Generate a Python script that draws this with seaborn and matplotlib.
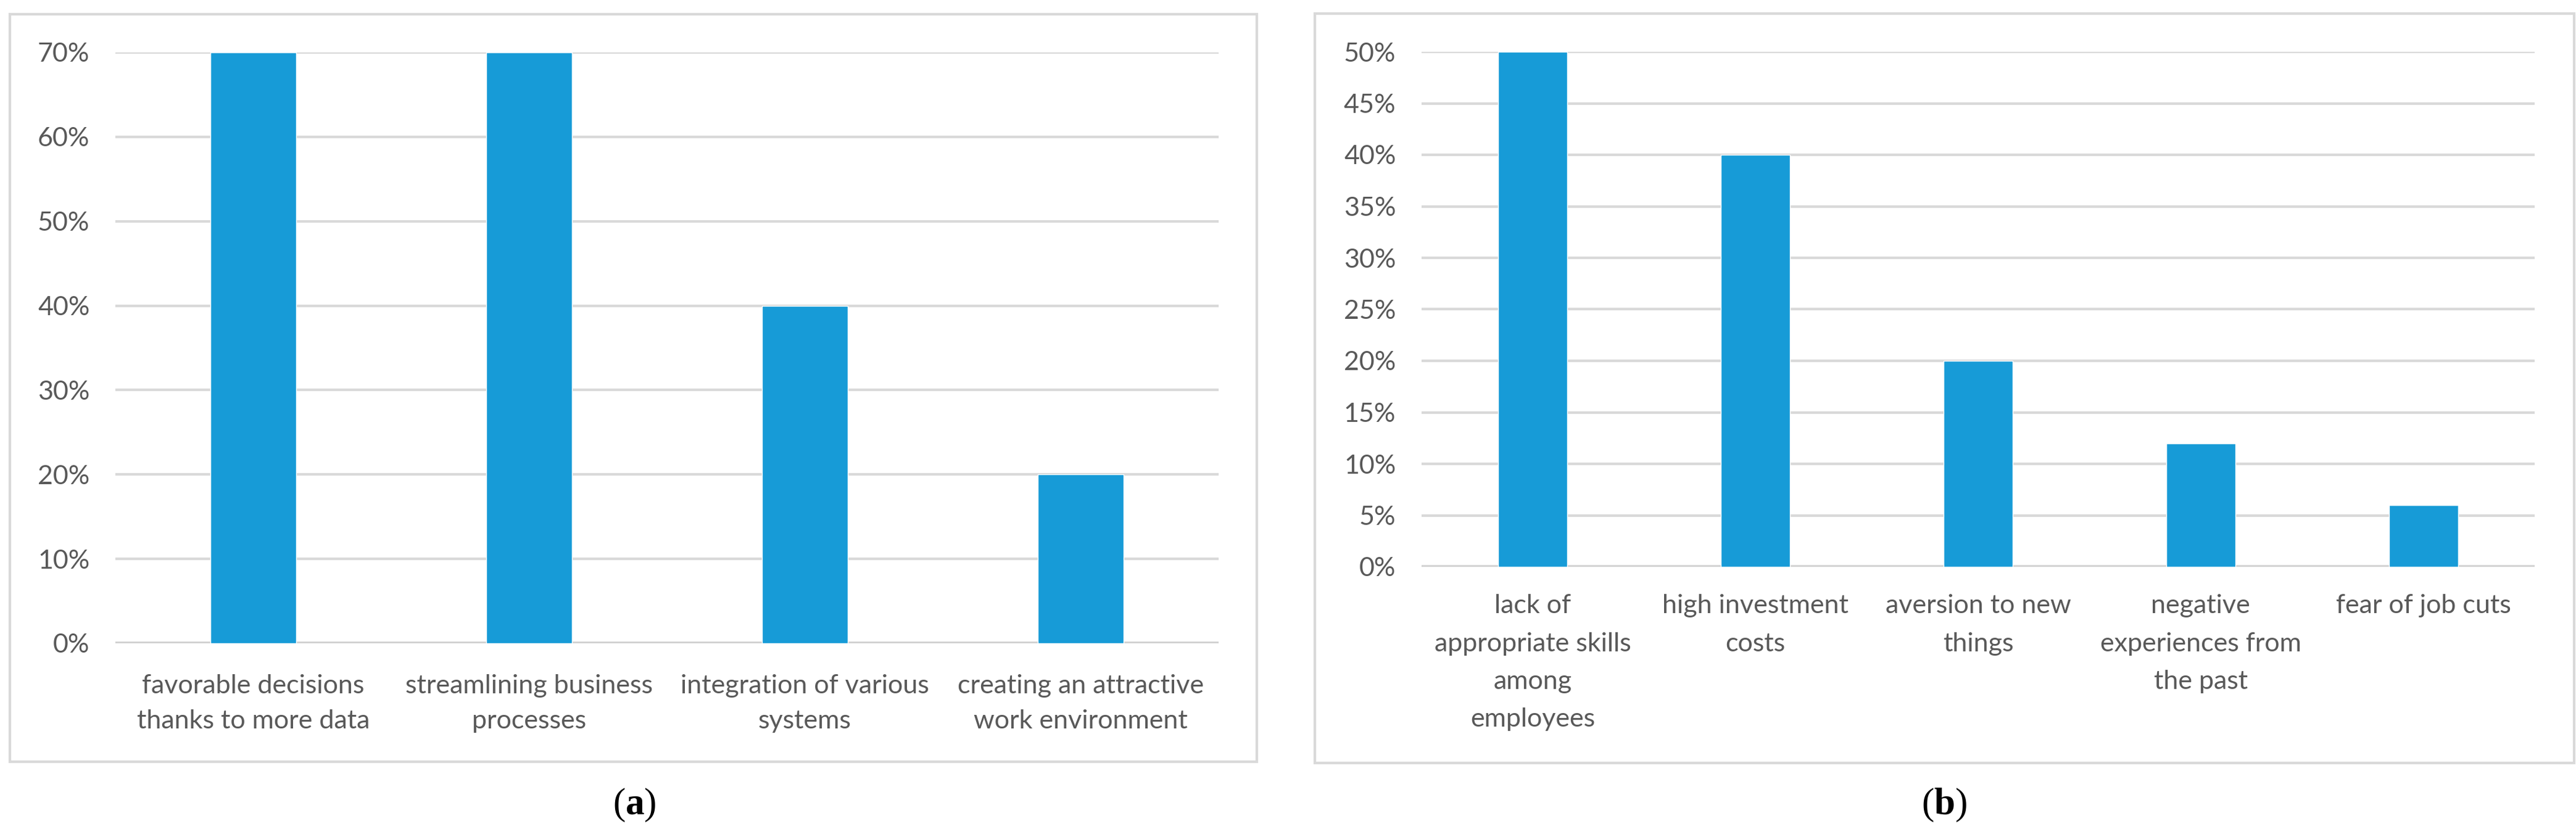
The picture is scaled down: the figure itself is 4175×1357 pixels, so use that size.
import matplotlib
matplotlib.use("Agg")
import matplotlib.pyplot as plt
import seaborn as sns
import pandas as pd
from matplotlib.patches import Rectangle
from matplotlib.ticker import PercentFormatter, MultipleLocator

# (a) benefits
benefits = ["favorable decisions\nthanks to more data",
            "streamlining business\nprocesses",
            "integration of various\nsystems",
            "creating an attractive\nwork environment"]
benefit_share = [0.70, 0.70, 0.40, 0.20]

# (b) barriers
barriers = ["lack of\nappropriate skills\namong\nemployees",
            "high investment\ncosts",
            "aversion to new\nthings",
            "negative\nexperiences from\nthe past",
            "fear of job cuts"]
barrier_share = [0.50, 0.40, 0.20, 0.12, 0.06]

bar_color = "#179BD7"
grid_color = "#D9D9D9"
text_color = "#595959"

sns.set_style("white")
plt.rcParams['font.family'] = ['Lato', 'DejaVu Sans']
plt.rcParams['mathtext.fontset'] = 'custom'
plt.rcParams['mathtext.rm'] = 'Liberation Serif'
plt.rcParams['mathtext.bf'] = 'Liberation Serif:bold'

W, H = 4175, 1357
fig = plt.figure(figsize=(W / 100, H / 100), dpi=100)


def frame(x0, y0, x1, y1):
    # light grey box around each chart, pixel coords from the top-left
    fig.patches.append(Rectangle((x0 / W, 1 - y1 / H), (x1 - x0) / W, (y1 - y0) / H,
                                 transform=fig.transFigure, fill=False,
                                 edgecolor=grid_color, linewidth=3))


def panel(ax, labels, values, top, step, xpad, linesp):
    df = pd.DataFrame({"cat": labels, "val": values})
    sns.barplot(data=df, x="cat", y="val", color=bar_color, width=0.31,
                saturation=1, ax=ax, zorder=3)
    ax.set_ylim(0, top)
    ax.set_xlim(-0.5, len(labels) - 0.5)
    ax.yaxis.set_major_locator(MultipleLocator(step))
    ax.yaxis.set_major_formatter(PercentFormatter(1.0, decimals=0))
    ax.grid(axis="y", color=grid_color, linewidth=3, zorder=0)
    ax.set_axisbelow(True)
    for s in ax.spines.values():
        s.set_visible(False)
    ax.axhline(0, color="#D0D0D0", linewidth=4, zorder=2)
    ax.set_xlabel("")
    ax.set_ylabel("")
    ax.tick_params(axis="y", length=0, pad=30, labelsize=31, labelcolor=text_color)
    ax.tick_params(axis="x", length=0, pad=xpad, labelsize=31, labelcolor=text_color)
    for t in ax.get_xticklabels():
        t.set_linespacing(linesp)
        t.set_verticalalignment("top")


ax_a = fig.add_axes([187 / W, 1 - 1043 / H, 1788 / W, (1043 - 85) / H])
panel(ax_a, benefits, benefit_share, 0.70, 0.10, 36, 1.6)
frame(16, 23, 2037, 1235)

ax_b = fig.add_axes([2304 / W, 1 - 919 / H, 1804 / W, (919 - 84) / H])
panel(ax_b, barriers, barrier_share, 0.50, 0.05, 32, 1.75)
frame(2131, 22, 4172, 1237)

fig.text(1028 / W, 1 - 1305 / H, r"($\mathbf{a}$)", family="Liberation Serif",
         fontsize=44, ha="center", va="center", color="black")
fig.text(3151 / W, 1 - 1305 / H, r"($\mathbf{b}$)", family="Liberation Serif",
         fontsize=44, ha="center", va="center", color="black")

fig.savefig("out.png", dpi=100, facecolor="white")
